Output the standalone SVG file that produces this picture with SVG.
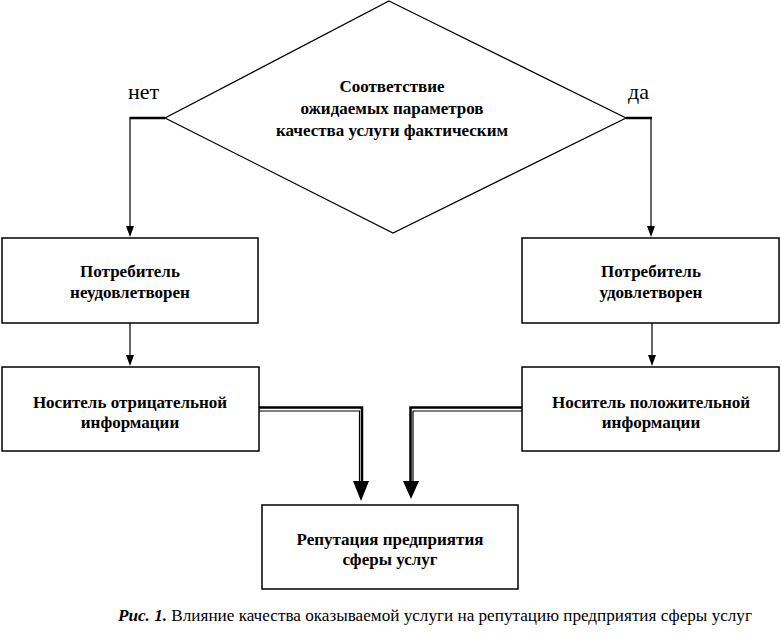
<svg xmlns="http://www.w3.org/2000/svg" width="781" height="637" viewBox="0 0 781 637">
<style>
.box{fill:#fff;stroke:#000;stroke-width:1.5}
.t{font-weight:bold;font-size:17px;text-anchor:middle;fill:#000}
.lbl{font-size:22px;fill:#000}
.cap{font-size:17px;fill:#000}
.ln{fill:none;stroke:#000;stroke-width:1.2}
.thk{fill:none;stroke:#000;stroke-width:2.5}
.thn{fill:none;stroke:#000;stroke-width:1.2}
.ah{fill:#000}
</style>
<rect width="781" height="637" fill="#fff"/>
<g font-family="Liberation Serif, Times New Roman, Times, serif">
<g id="decision">
<polygon points="389,1 626,118 393,233 165,118" fill="#fff" stroke="#000" stroke-width="1.2"/>
<text class="t" x="392" y="92">Соответствие</text>
<text class="t" x="392" y="114">ожидаемых параметров</text>
<text class="t" x="392" y="136">качества услуги фактическим</text>
</g>
<g id="consumer-unsatisfied">
<rect class="box" x="2" y="238" width="256" height="85"/>
<text class="t" x="130" y="277">Потребитель</text>
<text class="t" x="130" y="298">неудовлетворен</text>
</g>
<g id="consumer-satisfied">
<rect class="box" x="522" y="238" width="257" height="85"/>
<text class="t" x="651" y="277">Потребитель</text>
<text class="t" x="651" y="298">удовлетворен</text>
</g>
<g id="negative-info">
<rect class="box" x="2" y="367" width="257" height="84"/>
<text class="t" x="130" y="408">Носитель отрицательной</text>
<text class="t" x="130" y="428">информации</text>
</g>
<g id="positive-info">
<rect class="box" x="522" y="367" width="257" height="84"/>
<text class="t" x="651" y="408">Носитель положительной</text>
<text class="t" x="651" y="428">информации</text>
</g>
<g id="reputation">
<rect class="box" x="262" y="505" width="256" height="84"/>
<text class="t" x="390" y="545">Репутация предприятия</text>
<text class="t" x="390" y="565">сферы услуг</text>
</g>
<g id="connectors">
<text class="lbl" x="128" y="99">нет</text>
<text class="lbl" x="628" y="99">да</text>
<path d="M165,118 H130" class="thk"/>
<path d="M130,117 V228" class="ln"/>
<polygon class="ah" points="126,226 134,226 130,237"/>
<path d="M626,118 H652" class="thk"/>
<path d="M651,117 V228" class="ln"/>
<polygon class="ah" points="647,226 655,226 651,237"/>
<path d="M130,323 V357" class="ln"/>
<polygon class="ah" points="126,355 134,355 130,366"/>
<path d="M652,323 V357" class="ln"/>
<polygon class="ah" points="648,355 656,355 652,366"/>
<path d="M259,407.5 H362 V485" class="thk"/>
<path d="M259,411 H359.5 V485" class="thn"/>
<polygon class="ah" points="353,481 369,481 361,501"/>
<path d="M522,407.5 H410.5 V485" class="thk"/>
<path d="M522,411 H413 V485" class="thn"/>
<polygon class="ah" points="403,481 419,481 411,499"/>
</g>
<text class="cap" x="118" y="621" textLength="634" lengthAdjust="spacingAndGlyphs"><tspan font-weight="bold" font-style="italic">Рис. 1.</tspan> Влияние качества оказываемой услуги на репутацию предприятия сферы услуг</text>
</g>
</svg>
